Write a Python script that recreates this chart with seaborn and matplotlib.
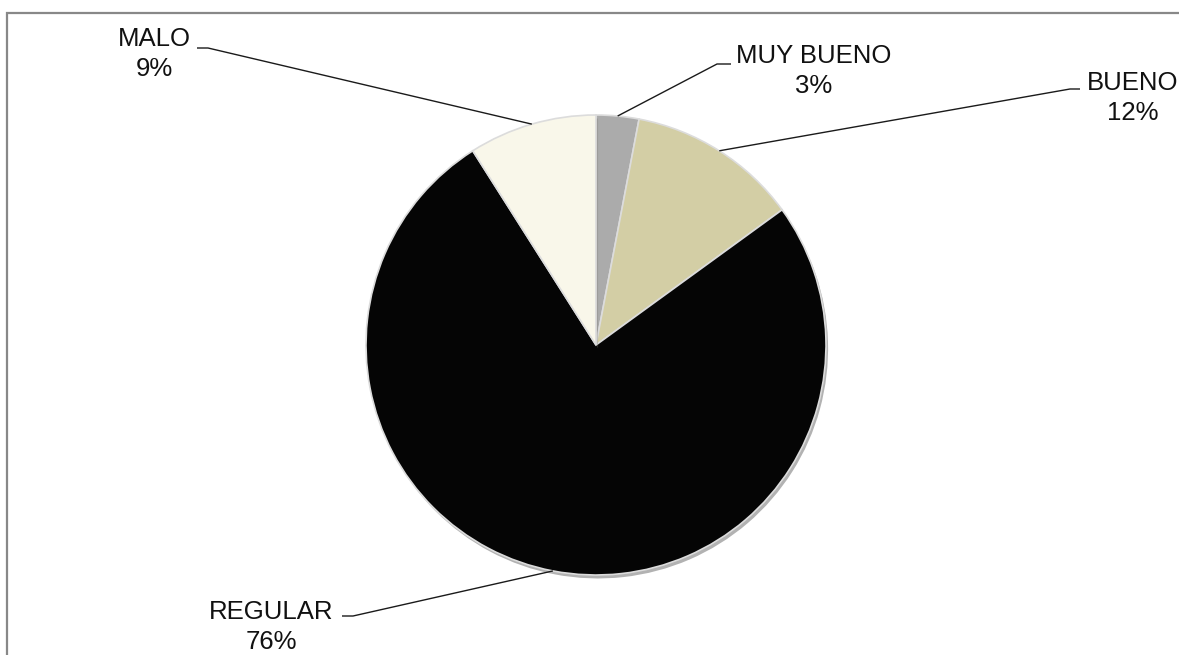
import numpy as np
import matplotlib
matplotlib.use("Agg")
import matplotlib.pyplot as plt
import matplotlib.patheffects as pe
from matplotlib.patches import Rectangle
import seaborn as sns

# ---- data ----
categories = ["MUY BUENO", "BUENO", "REGULAR", "MALO"]
percentages = [3, 12, 76, 9]
colors = ["#ababab", "#d3cea5", "#050505", "#f9f7ea"]

sns.set_theme(style="white")
plt.rcParams["font.family"] = ["Liberation Sans", "DejaVu Sans"]

W, H = 1179, 655
fig = plt.figure(figsize=(W / 100, H / 100), dpi=100)
ax = fig.add_axes([0, 0, 1, 1])

cx, cy, r = 596, H - 345, 230
wedges, _ = ax.pie(
    percentages, colors=colors, startangle=90, counterclock=False,
    center=(cx, cy), radius=r, frame=True,
    wedgeprops=dict(edgecolor="#dcdcdc", linewidth=1.2),
)
ax.set_xlim(0, W)
ax.set_ylim(0, H)
ax.set_aspect("equal")
ax.axis("off")
for w in wedges:
    w.set_path_effects([pe.SimplePatchShadow(offset=(1.5, -2.5), alpha=0.3, rho=0.5), pe.Normal()])

# label layout: (text center x, text center y in px from top, elbow x, text-side x, y of horizontal)
layout = {
    "MUY BUENO": (814, 71, 717, 731, 64),
    "BUENO": (1133, 98, 1070, 1080, 89),
    "REGULAR": (271, 627, 353, 342, 616),
    "MALO": (154, 54, 208, 197, 48),
}
for w, cat, pct in zip(wedges, categories, percentages):
    mid = np.deg2rad((w.theta1 + w.theta2) / 2)
    ax_ = cx + r * np.cos(mid)
    ay_ = cy + r * np.sin(mid)
    tx, ty, ex, sx, hy = layout[cat]
    ax.plot([ax_, ex, sx], [ay_, H - hy, H - hy], color="#1a1a1a", lw=1.0,
            solid_capstyle="butt", zorder=5)
    ax.text(tx, H - ty, f"{cat}\n{pct}%", ha="center", va="center",
            fontsize=18.5, color="#111111", linespacing=1.28, zorder=6)

fig.add_artist(Rectangle((7 / W, -0.1), 1.2, (H - 13) / H + 0.1,
                         transform=fig.transFigure, fill=False,
                         edgecolor="#888888", linewidth=1.6, clip_on=False))

fig.savefig("out.png", dpi=100, facecolor="white")
